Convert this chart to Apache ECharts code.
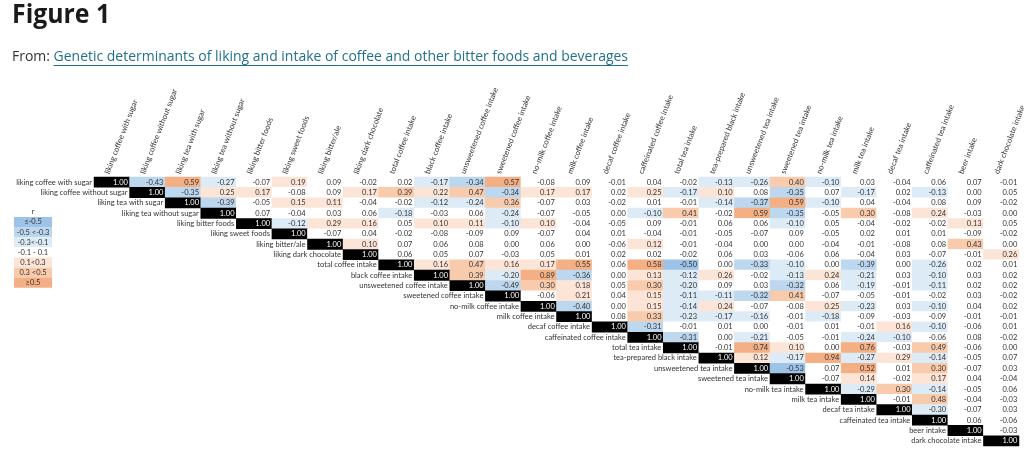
<!DOCTYPE html>
<html><head><meta charset="utf-8">
<script src="https://cdn.jsdelivr.net/npm/echarts@6/dist/echarts.min.js"></script>
<style>html,body{margin:0;padding:0;background:#fff;}#chart{width:1024px;height:451px;}</style>
</head><body><div id="chart"></div>
<script>
const variables = [
  'liking coffee with sugar','liking coffee without sugar','liking tea with sugar','liking tea without sugar',
  'liking bitter foods','liking sweet foods','liking bitter/ale','liking dark chocolate',
  'total coffee intake','black coffee intake','unsweetened coffee intake','sweetened coffee intake',
  'no-milk coffee intake','milk coffee intake','decaf coffee intake','caffeinated coffee intake',
  'total tea intake','tea-prepared black intake','unsweetened tea intake','sweetened tea intake',
  'no-milk tea intake','milk tea intake','decaf tea intake','caffeinated tea intake',
  'beer intake','dark chocolate intake'
];
// upper-triangle rows, each starting at the diagonal
const row01 = [1.00,-0.43,0.59,-0.27,-0.07,0.19,0.09,-0.02,0.02,-0.17,-0.34,0.57,-0.08,0.09,-0.01,0.04,-0.02,-0.13,-0.26,0.40,-0.10,0.03,-0.04,0.06,0.07,-0.01];
const row02 = [1.00,-0.35,0.25,0.17,-0.08,0.09,0.17,0.39,0.22,0.47,-0.34,0.17,0.17,0.02,0.25,-0.17,0.10,0.08,-0.35,0.07,-0.17,0.02,-0.13,0.00,0.05];
const row03 = [1.00,-0.39,-0.05,0.15,0.11,-0.04,-0.02,-0.12,-0.24,0.36,-0.07,0.03,-0.02,0.01,-0.01,-0.14,-0.37,0.59,-0.10,0.04,-0.04,0.08,0.09,-0.02];
const row04 = [1.00,0.07,-0.04,0.03,0.06,-0.18,-0.03,0.06,-0.24,-0.07,-0.05,0.00,-0.10,0.41,-0.02,0.59,-0.35,-0.05,0.30,-0.08,0.24,-0.03,0.00];
const row05 = [1.00,-0.12,0.29,0.16,0.05,0.10,0.11,-0.10,0.10,-0.04,-0.05,0.09,-0.01,0.06,0.06,-0.10,0.05,-0.04,-0.02,-0.02,0.13,0.05];
const row06 = [1.00,-0.07,0.04,-0.02,-0.08,-0.09,0.09,-0.07,0.04,0.01,-0.04,-0.01,-0.05,-0.07,0.09,-0.05,0.02,0.01,0.01,-0.09,-0.02];
const row07 = [1.00,0.10,0.07,0.06,0.08,0.00,0.06,0.00,-0.06,0.12,-0.01,-0.04,0.00,0.00,-0.04,-0.01,-0.08,0.08,0.43,0.00];
const row08 = [1.00,0.06,0.05,0.07,-0.03,0.05,0.01,0.02,0.02,-0.02,0.06,0.03,-0.06,0.06,-0.04,0.03,-0.07,-0.01,0.26];
const row09 = [1.00,0.16,0.47,0.16,0.17,0.55,0.06,0.58,-0.50,0.00,-0.33,-0.10,0.00,-0.39,0.00,-0.26,0.02,0.01];
const row10 = [1.00,0.39,-0.20,0.89,-0.36,0.00,0.13,-0.12,0.26,-0.02,-0.13,0.24,-0.21,0.03,-0.10,0.03,0.02];
const row11 = [1.00,-0.49,0.30,0.18,0.05,0.30,-0.20,0.09,0.03,-0.32,0.06,-0.19,-0.01,-0.11,0.02,0.02];
const row12 = [1.00,-0.06,0.21,0.04,0.15,-0.11,-0.11,-0.32,0.41,-0.07,-0.05,-0.01,-0.02,0.03,-0.02];
const row13 = [1.00,-0.40,0.00,0.15,-0.14,0.24,-0.07,-0.08,0.25,-0.23,0.03,-0.10,0.04,0.02];
const row14 = [1.00,0.08,0.33,-0.23,-0.17,-0.16,-0.01,-0.18,-0.09,-0.03,-0.09,-0.01,-0.01];
const row15 = [1.00,-0.31,-0.01,0.01,0.00,-0.01,0.01,-0.01,0.16,-0.10,-0.06,0.01];
const row16 = [1.00,-0.31,0.00,-0.21,-0.05,-0.01,-0.24,-0.10,-0.06,0.08,-0.02];
const row17 = [1.00,-0.01,0.74,0.10,0.00,0.76,-0.03,0.49,-0.06,0.00];
const row18 = [1.00,0.12,-0.17,0.94,-0.27,0.29,-0.14,-0.05,0.07];
const row19 = [1.00,-0.53,0.07,0.52,0.01,0.30,-0.07,0.03];
const row20 = [1.00,-0.07,0.14,-0.02,0.17,0.04,-0.04];
const row21 = [1.00,-0.29,0.30,-0.14,-0.05,0.06];
const row22 = [1.00,-0.01,0.48,-0.04,-0.03];
const row23 = [1.00,-0.30,-0.07,0.03];
const row24 = [1.00,0.06,-0.06];
const row25 = [1.00,-0.03];
const row26 = [1.00];

const legendTitle = 'r';
const legendLabels = ['\u2264-0.5','-0.5 <-0.3','-0.3<-0.1','-0.1 - 0.1','0.1<0.3','0.3 <0.5','\u22650.5'];
const figureTitle = 'Figure 1';
const sourcePrefix = 'From: ';
const sourceLink = 'Genetic determinants of liking and intake of coffee and other bitter foods and beverages';

const FONT = 'Lato, "Liberation Sans", sans-serif';
const binColors = ['#9DC3E6','#BDD7EE','#DDEBF7','#FFFFFF','#FCE4D6','#F8CBAD','#F4B084'];
const linkColor = '#22708f';
function binIndex(v) {
  if (v <= -0.5) return 0;
  if (v < -0.3) return 1;
  if (v <= -0.1) return 2;
  if (v < 0.1) return 3;
  if (v < 0.3) return 4;
  if (v < 0.5) return 5;
  return 6;
}

const matrixRows = [row01,row02,row03,row04,row05,row06,row07,row08,row09,row10,row11,row12,row13,
  row14,row15,row16,row17,row18,row19,row20,row21,row22,row23,row24,row25,row26];
const cells = [];
matrixRows.forEach((row, r) => row.forEach((v, k) => {
  const c = r + k;
  const diag = c === r;
  cells.push({
    value: [c, r, v],
    itemStyle: { color: diag ? '#000000' : binColors[binIndex(v)] },
    label: { color: diag ? '#ffffff' : '#333333' }
  });
}));

const ctx = document.createElement('canvas').getContext('2d');
const subFont = '14px "Open Sans"';
ctx.font = subFont;
const wPrefix = ctx.measureText(sourcePrefix).width;
const wLink = ctx.measureText(sourceLink).width;
const subScale = 616 / (wPrefix + wLink);

const graphic = [
  { type: 'text', x: 12, y: 2, scaleX: 0.92,
    style: { text: figureTitle, font: 'bold 27px "Open Sans"', fill: '#1a1a1a', verticalAlign: 'top' } },
  { type: 'group', x: 12, y: 57, scaleX: subScale, children: [
    { type: 'text', x: 0, y: 0, style: { text: sourcePrefix, font: subFont, fill: '#333', verticalAlign: 'middle' } },
    { type: 'text', x: wPrefix, y: 0, style: { text: sourceLink, font: subFont, fill: linkColor, verticalAlign: 'middle' } },
    { type: 'line', shape: { x1: wPrefix, y1: 8.5, x2: wPrefix + wLink, y2: 8.5 }, style: { stroke: linkColor, lineWidth: 1 } }
  ]},
  { type: 'text', x: 33, y: 212, style: { text: legendTitle, font: '7.5px ' + FONT, fill: '#333', align: 'center', verticalAlign: 'middle' } }
];
legendLabels.forEach((t, i) => {
  graphic.push({ type: 'rect', shape: { x: 14, y: 217 + 10.1 * i, width: 38, height: 10.1 }, style: { fill: binColors[i] } });
  graphic.push({ type: 'text', x: 33, y: 222 + 10.1 * i,
    style: { text: t, font: '7.5px ' + FONT, fill: '#333', align: 'center', verticalAlign: 'middle' } });
});

const chart = echarts.init(document.getElementById('chart'));
chart.setOption({
  animation: false,
  backgroundColor: '#ffffff',
  grid: { left: 94, right: 5, top: 177, bottom: 5, containLabel: false, outerBoundsMode: 'none' },
  xAxis: { type: 'category', data: variables, position: 'top',
    axisLine: { show: false }, axisTick: { show: false }, axisLabel: { show: false }, splitLine: { show: false } },
  yAxis: { type: 'category', data: variables, inverse: true,
    axisLine: { show: false }, axisTick: { show: false }, axisLabel: { show: false }, splitLine: { show: false } },
  graphic: graphic,
  series: [
    { type: 'heatmap', data: cells, silent: true,
      itemStyle: { borderWidth: 0 },
      label: { show: true, position: 'insideRight', distance: 2, fontSize: 7.5, fontFamily: FONT,
        formatter: p => p.value[2].toFixed(2) },
      emphasis: { disabled: true } },
    { type: 'custom', silent: true, z: 5,
      data: variables.map((n, i) => [i, i]), encode: { x: 0, y: 1 },
      renderItem(params, api) {
        const i = api.value(0);
        const p = api.coord([i, i]);
        const s = api.size([1, 1]);
        return { type: 'text', x: p[0] - s[0] / 2 - 2, y: p[1],
          style: { text: variables[i], fontSize: 7.5, fontFamily: FONT, fill: '#333', align: 'right', verticalAlign: 'middle' } };
      } },
    { type: 'custom', silent: true, z: 5,
      data: variables.map((n, i) => [i, 0]), encode: { x: 0, y: 1 },
      renderItem(params, api) {
        const i = api.value(0);
        const p = api.coord([i, 0]);
        const s = api.size([1, 1]);
        return { type: 'text', x: p[0] - 1, y: p[1] - s[1] / 2 - 2, rotation: 69 * Math.PI / 180,
          style: { text: variables[i], fontSize: 7.8, fontFamily: FONT, fill: '#333', align: 'left', verticalAlign: 'bottom' } };
      } }
  ]
});
</script>
</body></html>
